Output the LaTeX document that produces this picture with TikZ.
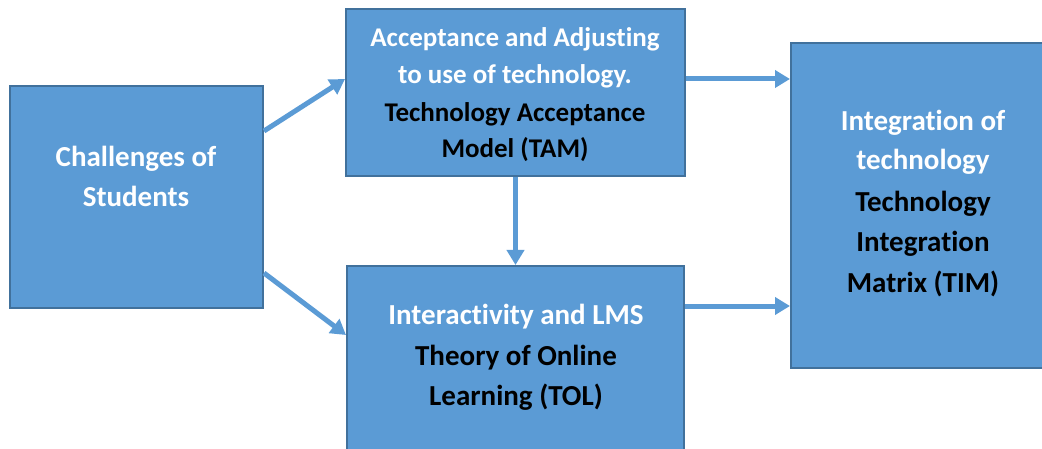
\documentclass[tikz,border=0pt]{standalone}
\usepackage{fontspec}
\setmainfont{Carlito}[Ligatures={NoCommon}]
\usetikzlibrary{arrows.meta}
\definecolor{boxfill}{HTML}{5B9BD5}
\definecolor{boxedge}{HTML}{41719C}
\tikzset{
  box/.style={draw=boxedge, line width=2pt, fill=boxfill, inner sep=0pt, anchor=center},
  wtxt/.style={text=white, font=\fontsize{29}{34}\selectfont\bfseries, anchor=base, inner sep=0pt},
  btxt/.style={text=black, font=\fontsize{29}{34}\selectfont\bfseries, anchor=base, inner sep=0pt},
  small/.style={font=\fontsize{27}{32}\selectfont\bfseries},
  arr/.style={draw=boxfill, line width=5pt, -{Triangle[length=15pt,width=17pt]}}
}
\begin{document}
\begin{tikzpicture}[x=1pt, y=-1pt]
\useasboundingbox (0,0) rectangle (1042,449);
\clip (0,0) rectangle (1042,449);
% boxes
\node[box, minimum width=253pt, minimum height=222pt] (chal) at (136.5,197) {};
\node[box, minimum width=339pt, minimum height=167pt] (tam) at (515.5,92.5) {};
\node[box, minimum width=337pt, minimum height=204pt] (tol) at (515.5,368) {};
\node[box, minimum width=269pt, minimum height=325pt] (tim) at (925.5,205.5) {};
% texts
\node[wtxt] (chal1) at (136,167) {Challenges of};
\node[wtxt] (chal2) at (136,207) {Students};
\node[wtxt, small] (tam1) at (515,47) {Acceptance and Adjusting};
\node[wtxt, small] (tam2) at (515,84) {to use of technology.};
\node[btxt, small] (tam3) at (515,122) {Technology Acceptance};
\node[btxt, small] (tam4) at (515,158) {Model (TAM)};
\node[wtxt] (tol1) at (516,324) {Interactivity and LMS};
\node[btxt] (tol2) at (516,365) {Theory of Online};
\node[btxt] (tol3) at (516,405) {Learning (TOL)};
\node[wtxt] (tim1) at (923,131) {Integration of};
\node[wtxt] (tim2) at (923,170) {technology};
\node[btxt] (tim3) at (923,212) {Technology};
\node[btxt] (tim4) at (923,252) {Integration};
\node[btxt] (tim5) at (923,293) {Matrix (TIM)};
% connectors
\draw[arr] ([yshift=-46pt]chal.north east) -- ([yshift=-71pt]tam.north west);
\draw[arr] ([yshift=36pt]chal.south east) -- ([yshift=-70pt]tol.north west);
\draw[arr] (tam.south) -- (tol.north);
\draw[arr] ([yshift=-71pt]tam.north east) -- ([yshift=-37pt]tim.north west);
\draw[arr] ([yshift=-41pt]tol.north east) -- ([yshift=63pt]tim.south west);
\end{tikzpicture}
\end{document}
